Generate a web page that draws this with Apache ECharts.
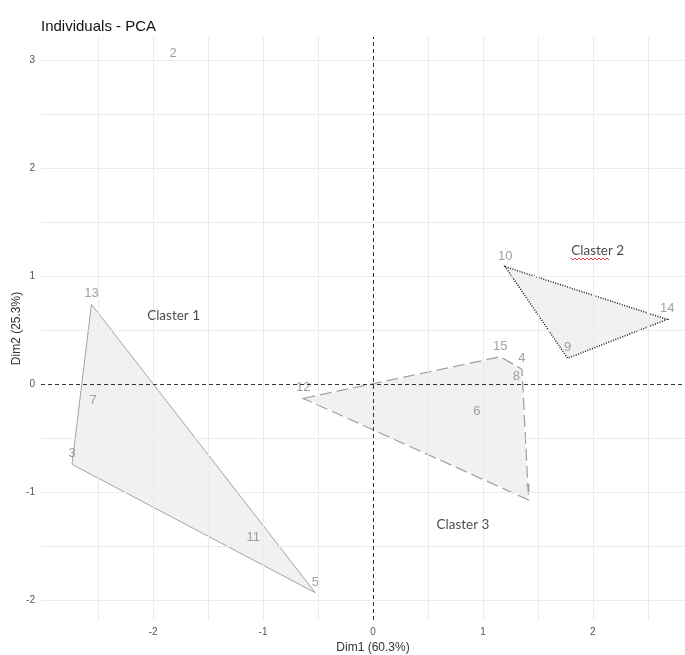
<!DOCTYPE html>
<html>
<head>
<meta charset="utf-8">
<script src="https://cdn.jsdelivr.net/npm/echarts@6/dist/echarts.min.js"></script>
<style>
  html, body { margin: 0; padding: 0; background: #fff; }
  #main { width: 685px; height: 655px; }
</style>
</head>
<body>
<div id="main"></div>
<script>
// individuals (row names) and their coordinates on Dim1 / Dim2
var pointNames = ["1", "2", "3", "4", "5", "6", "7", "8", "9", "10", "11", "12", "13", "14", "15"];
var dim1 = [1.415, -1.818, -2.738, 1.355, -0.525, 0.945, -2.546, 1.303, 1.770, 1.203, -1.089, -0.634, -2.561, 2.676, 1.158];
var dim2 = [-1.070, 2.963, -0.740, 0.139, -1.928, -0.344, -0.247, -0.025, 0.241, 1.088, -1.510, -0.130, 0.740, 0.601, 0.255];

// convex hull of each cluster, as point names
var hull1 = ["13", "5", "3"];
var hull2 = ["10", "14", "9"];
var hull3 = ["12", "15", "4", "1"];

// cluster captions and where they sit
var clusterNames = ["Claster 1", "Claster 2", "Claster 3"];
var clusterX = [-1.814, 2.044, 0.818];
var clusterY = [0.635, 1.236, -1.295];

// axis breaks
var xMajor = [-2, -1, 0, 1, 2];
var yMajor = [-2, -1, 0, 1, 2, 3];
var xGrid = [-2.5, -2, -1.5, -1, -0.5, 0.5, 1, 1.5, 2, 2.5];
var yGrid = [-2, -1.5, -1, -0.5, 0.5, 1, 1.5, 2, 2.5, 3];

var hullStyles = [
  { stroke: "#a3a3a3", lineWidth: 1, lineDash: null, under: false },
  { stroke: "#1a1a1a", lineWidth: 1.5, lineDash: [1, 1.5], under: false },
  { stroke: "#a3a3a3", lineWidth: 1.3, lineDash: [12, 5], under: true }
];
var hulls = [hull1, hull2, hull3];

function coordOf(name) {
  var i = pointNames.indexOf(name);
  return [dim1[i], dim2[i]];
}

var myChart = echarts.init(document.getElementById("main"));

var gridLineData = [];
xGrid.forEach(function (v) { gridLineData.push({ xAxis: v }); });
yGrid.forEach(function (v) { gridLineData.push({ yAxis: v }); });

myChart.setOption({
  animation: false,
  textStyle: { fontFamily: "Liberation Sans" },
  title: {
    text: "Individuals - PCA",
    left: 36,
    top: 14,
    textStyle: { fontSize: 15, fontWeight: "normal", color: "#111", fontFamily: "Liberation Sans" }
  },
  grid: { left: 41, top: 37, width: 664, height: 583, containLabel: false, outerBoundsMode: "none" },
  xAxis: {
    type: "value",
    min: -3.02,
    max: 3.02,
    name: "Dim1 (60.3%)",
    nameLocation: "middle",
    nameGap: 22,
    nameMoveOverlap: false,
    nameTextStyle: { fontSize: 12, color: "#333" },
    axisLine: { show: false },
    splitLine: { show: false },
    axisTick: { show: true, length: 3, customValues: xMajor, lineStyle: { color: "#333" } },
    axisLabel: { customValues: xMajor, margin: 7, fontSize: 10, color: "#555" }
  },
  yAxis: {
    type: "value",
    min: -2.18,
    max: 3.213,
    name: "Dim2 (25.3%)",
    nameLocation: "middle",
    nameGap: 18,
    nameMoveOverlap: false,
    nameRotate: 90,
    nameTextStyle: { fontSize: 12, color: "#333" },
    axisLine: { show: false },
    splitLine: { show: false },
    axisTick: { show: true, length: 3, customValues: yMajor, lineStyle: { color: "#333" } },
    axisLabel: { customValues: yMajor, margin: 6, fontSize: 10, color: "#555" }
  },
  graphic: [
    {
      // spell-check squiggle under "Claster 2"
      type: "polyline",
      z: 100,
      shape: {
        points: [[571, 258], [573, 260], [575, 258], [577, 260], [579, 258], [581, 260], [583, 258], [585, 260],
                 [587, 258], [589, 260], [591, 258], [593, 260], [595, 258], [597, 260], [599, 258], [601, 260],
                 [603, 258], [605, 260], [607, 258], [609, 260]]
      },
      style: { stroke: "#e04040", lineWidth: 1, fill: null }
    }
  ],
  series: [
    {
      // panel grid lines
      type: "line",
      data: [],
      silent: true,
      z: 1,
      markLine: {
        silent: true,
        symbol: ["none", "none"],
        label: { show: false },
        lineStyle: { color: "#ebebeb", width: 1, type: "solid" },
        data: gridLineData
      }
    },
    {
      type: "custom",
      z: 2,
      silent: true,
      data: hulls.map(function (h, i) { return [i]; }),
      renderItem: function (params, api) {
        var idx = params.dataIndex;
        var pts = hulls[idx].map(function (n) { return api.coord(coordOf(n)); });
        var st = hullStyles[idx];
        var children = [
          { type: "polygon", shape: { points: pts }, style: { fill: "rgba(190,190,190,0.22)", stroke: null } }
        ];
        if (st.under) {
          children.push({ type: "polygon", shape: { points: pts }, style: { fill: null, stroke: "#ffffff", lineWidth: 1.6 } });
        }
        children.push({
          type: "polygon",
          shape: { points: pts },
          style: { fill: null, stroke: st.stroke, lineWidth: st.lineWidth, lineDash: st.lineDash }
        });
        return { type: "group", children: children };
      }
    },
    {
      // reference lines at 0
      type: "line",
      data: [],
      silent: true,
      z: 3,
      markLine: {
        silent: true,
        symbol: ["none", "none"],
        label: { show: false },
        lineStyle: { color: "#333", width: 1, type: [4, 3] },
        data: [{ xAxis: 0 }, { yAxis: 0 }]
      }
    },
    {
      // individuals labels
      type: "scatter",
      z: 4,
      symbolSize: 2,
      itemStyle: { color: "rgba(0,0,0,0)" },
      labelLayout: { hideOverlap: false },
      label: {
        show: true,
        position: "top",
        distance: 3,
        fontSize: 13,
        color: "#8a8a8a",
        fontFamily: "Liberation Sans",
        formatter: function (p) { return p.data[2]; }
      },
      data: pointNames.map(function (n, i) { return [dim1[i], dim2[i], n]; })
    },
    {
      // cluster captions
      type: "scatter",
      z: 5,
      symbolSize: 2,
      itemStyle: { color: "rgba(0,0,0,0)" },
      label: {
        show: true,
        position: "inside",
        fontSize: 13.5,
        color: "#1a1a1a",
        fontFamily: "Lato",
        formatter: function (p) { return p.data[2]; }
      },
      data: clusterNames.map(function (n, i) { return [clusterX[i], clusterY[i], n]; })
    }
  ]
});
</script>
</body>
</html>
